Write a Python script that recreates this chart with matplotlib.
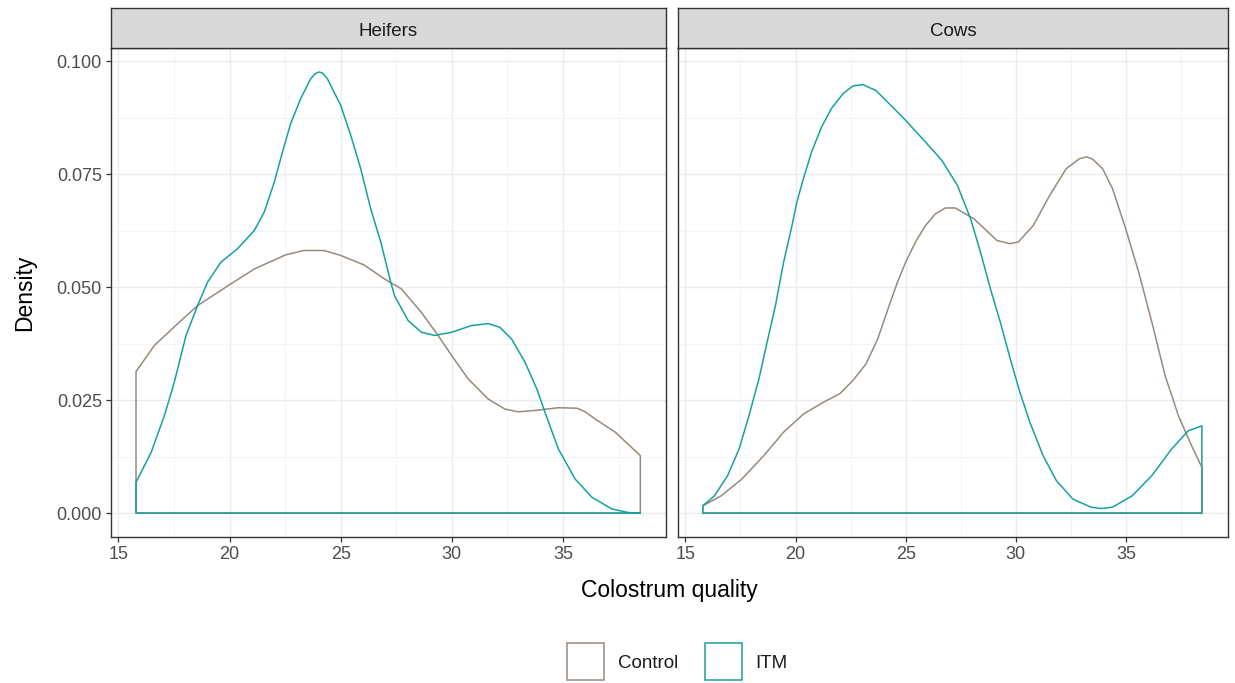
import matplotlib
matplotlib.use("Agg")
import matplotlib.pyplot as plt
from matplotlib.patches import Rectangle
from matplotlib.ticker import MultipleLocator

plt.rcParams['font.family'] = ['Liberation Sans', 'DejaVu Sans']

# ---- data ----
panels = ["Heifers", "Cows"]
groups = ["Control", "ITM"]

heifers_control_x = [15.79, 16.62, 17.49, 18.56, 19.96, 21.11, 22.51, 23.35, 24.25, 25.0, 26.05,
                     26.97, 27.73, 28.63, 29.38, 30.0, 30.73, 31.64, 32.39, 32.99, 33.74, 34.79,
                     35.62, 36.0, 36.45, 37.35, 38.48]
heifers_control_y = [0.0313, 0.0371, 0.0411, 0.0459, 0.0504, 0.0540, 0.0571, 0.0581, 0.0581, 0.0570, 0.0549,
                     0.0518, 0.0496, 0.0444, 0.0393, 0.0348, 0.0297, 0.0252, 0.0230, 0.0224, 0.0227, 0.0233,
                     0.0232, 0.0224, 0.0208, 0.0179, 0.0127]

heifers_itm_x = [15.79, 16.47, 17.07, 17.51, 18.04, 18.56, 19.01, 19.61, 20.36, 21.11, 21.56, 22.01,
                 22.38, 22.75, 23.20, 23.65, 23.85, 24.03, 24.20, 24.40, 25.0, 25.45, 25.90, 26.35, 26.80, 27.25,
                 27.42, 28.03, 28.63, 29.23, 30.0, 30.88, 31.64, 32.16, 32.69, 33.29, 33.82, 34.19,
                 34.79, 35.55, 36.3, 37.2, 37.95, 38.48]
heifers_itm_y = [0.0068, 0.0134, 0.0216, 0.0289, 0.0393, 0.0459, 0.0511, 0.0555, 0.0585, 0.0625, 0.0666, 0.0732,
                 0.0799, 0.0862, 0.0917, 0.0961, 0.0972, 0.0976, 0.0973, 0.0961, 0.0902, 0.0836, 0.0762, 0.0673, 0.0600, 0.0511,
                 0.0481, 0.0426, 0.0400, 0.0393, 0.0400, 0.0415, 0.0419, 0.0411, 0.0385, 0.0334, 0.0275, 0.0223,
                 0.0142, 0.0075, 0.0035, 0.0009, 0.0001, 0.0000]

cows_control_x = [15.79, 16.62, 17.56, 18.56, 19.46, 20.36, 21.26, 22.01, 22.60, 23.20, 23.73, 24.25,
                  24.63, 25.0, 25.45, 25.90, 26.35, 26.80, 27.25, 28.10, 29.15, 29.75, 30.12, 30.79,
                  31.54, 32.29, 32.89, 33.20, 33.49, 33.94, 34.39, 34.99, 35.58, 36.18, 36.78, 37.38, 37.98, 38.45]
cows_control_y = [0.0016, 0.0038, 0.0075, 0.0127, 0.0179, 0.0219, 0.0245, 0.0264, 0.0293, 0.0330, 0.0385, 0.0459,
                  0.0511, 0.0555, 0.0600, 0.0636, 0.0662, 0.0675, 0.0675, 0.0651, 0.0603, 0.0596, 0.0600, 0.0636,
                  0.0703, 0.0762, 0.0784, 0.0788, 0.0783, 0.0762, 0.0718, 0.0629, 0.0533, 0.0422, 0.0304, 0.0216, 0.0149, 0.0101]

cows_itm_x = [15.79, 16.32, 16.92, 17.44, 17.89, 18.34, 18.71, 19.09, 19.46, 19.84, 20.06, 20.36, 20.73,
              21.18, 21.63, 22.16, 22.60, 23.05, 23.65, 24.25, 25.0, 25.90, 26.65, 27.35, 27.95, 28.40,
              28.85, 29.30, 29.75, 30.19, 30.64, 31.24, 31.84, 32.59, 33.41, 33.90, 34.39, 35.28, 36.18, 37.08,
              37.83, 38.45]
cows_itm_y = [0.0016, 0.0038, 0.0083, 0.0142, 0.0216, 0.0297, 0.0378, 0.0459, 0.0555, 0.0636, 0.0688, 0.0740, 0.0799,
              0.0854, 0.0895, 0.0928, 0.0945, 0.0948, 0.0935, 0.0906, 0.0869, 0.0821, 0.0780, 0.0725, 0.0651, 0.0577,
              0.0496, 0.0422, 0.0341, 0.0267, 0.0201, 0.0127, 0.0072, 0.0031, 0.0013, 0.0010, 0.0013, 0.0038, 0.0083, 0.0142,
              0.0182, 0.0193]

x_ticks = [15, 20, 25, 30, 35]
y_ticks = [0.000, 0.025, 0.050, 0.075, 0.100]
y_tick_labels = ["0.000", "0.025", "0.050", "0.075", "0.100"]

data = {
    "Heifers": {"Control": (heifers_control_x, heifers_control_y),
                "ITM": (heifers_itm_x, heifers_itm_y)},
    "Cows": {"Control": (cows_control_x, cows_control_y),
             "ITM": (cows_itm_x, cows_itm_y)},
}

colors = {"Control": "#988a7c", "ITM": "#16a1a1"}

# ---- figure ----
W, H = 1235, 683
fig = plt.figure(figsize=(W / 100, H / 100), dpi=100)

def fx(px):
    return px / W

def fy(py):
    return 1 - py / H

panel_px = [(111, 666), (678, 1228)]
top_px, bot_px = 48, 537
strip_top = 8

xmin, xmax = 14.665, 39.635
ymin, ymax = -0.0053, 0.1029

edge = "#333333"
for i, (name, (l, r)) in enumerate(zip(panels, panel_px)):
    ax = fig.add_axes([fx(l), fy(bot_px), fx(r) - fx(l), fy(top_px) - fy(bot_px)])
    ax.set_xlim(xmin, xmax)
    ax.set_ylim(ymin, ymax)
    ax.xaxis.set_minor_locator(MultipleLocator(2.5))
    ax.yaxis.set_minor_locator(MultipleLocator(0.0125))
    ax.set_xticks(x_ticks)
    ax.set_yticks(y_ticks)
    ax.grid(which="major", color="#ebebeb", linewidth=1.0)
    ax.grid(which="minor", color="#f2f2f2", linewidth=0.6)
    ax.set_axisbelow(True)
    for s in ax.spines.values():
        s.set_color(edge)
        s.set_linewidth(1.0)
    ax.tick_params(which="minor", length=0)
    ax.tick_params(which="major", length=3.5, color=edge, width=0.9,
                   labelsize=13, labelcolor="#4d4d4d", pad=3)
    if i == 0:
        ax.set_yticklabels(y_tick_labels)
    else:
        ax.tick_params(axis="y", left=False, labelleft=False)

    for g in groups:
        xs, ys = data[name][g]
        px = [xs[0]] + list(xs) + [xs[-1]]
        py = [0.0] + list(ys) + [0.0]
        ax.fill(px, py, facecolor="none", edgecolor=colors[g], linewidth=1.1,
                closed=True, joinstyle="round")

    # strip
    sax = fig.add_axes([fx(l), fy(top_px), fx(r) - fx(l), fy(strip_top) - fy(top_px)])
    sax.set_facecolor("#d9d9d9")
    sax.set_xticks([])
    sax.set_yticks([])
    for s in sax.spines.values():
        s.set_color(edge)
        s.set_linewidth(1.0)
    sax.text(0.5, 0.42, name, ha="center", va="center", fontsize=13.5, color="#1a1a1a",
             transform=sax.transAxes)

# axis titles
fig.text(fx((111 + 1228) / 2), fy(590), "Colostrum quality", ha="center", va="center",
         fontsize=16.5, color="black")
fig.text(fx(25), fy((top_px + bot_px) / 2), "Density", ha="center", va="center",
         rotation=90, fontsize=16.5, color="black")

# legend
legend_items = [("Control", 567, 618), ("ITM", 705, 755)]
for g, bx, tx in legend_items:
    rect = Rectangle((fx(bx), fy(680)), fx(37), 37 / H, transform=fig.transFigure,
                     facecolor="white", edgecolor=colors[g], linewidth=1.1)
    fig.patches.append(rect)
    fig.text(fx(tx), fy(664), g, ha="left", va="center", fontsize=13.5, color="#1a1a1a")

fig.savefig("out.png", dpi=100, facecolor="white")
